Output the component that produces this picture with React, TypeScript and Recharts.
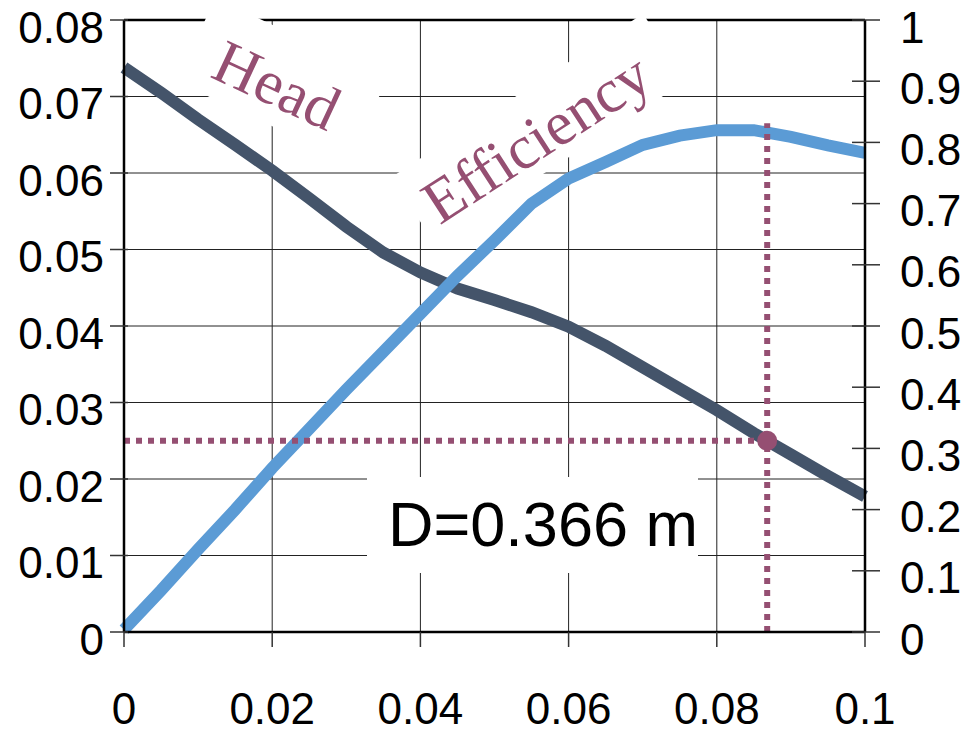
import { LineChart, Line, XAxis, YAxis, CartesianGrid, ReferenceLine, ReferenceDot } from "recharts";

const flow = [0, 0.005, 0.01, 0.015, 0.02, 0.025, 0.03, 0.035, 0.04, 0.045, 0.05, 0.055, 0.06, 0.065, 0.07, 0.075, 0.08, 0.085, 0.09, 0.095, 0.1];
const head = [0.0738, 0.0705, 0.067, 0.0637, 0.0603, 0.0567, 0.053, 0.0496, 0.047, 0.0449, 0.0434, 0.0418, 0.0399, 0.0374, 0.0346, 0.0318, 0.029, 0.026, 0.0232, 0.0204, 0.0177];
const efficiency = [0.004, 0.068, 0.135, 0.2, 0.268, 0.332, 0.396, 0.458, 0.52, 0.582, 0.64, 0.7, 0.741, 0.768, 0.796, 0.811, 0.82, 0.82, 0.809, 0.795, 0.783];

const xTicks = [0, 0.02, 0.04, 0.06, 0.08, 0.1];
const headTicks = [0, 0.01, 0.02, 0.03, 0.04, 0.05, 0.06, 0.07, 0.08];
const effTicks = [0, 0.1, 0.2, 0.3, 0.4, 0.5, 0.6, 0.7, 0.8, 0.9, 1];

// operating point
const opFlow = 0.0868;
const opHead = 0.025;
const opTop = 0.0665;

const rows = flow.map((q, i) => ({ q, head: head[i], eff: efficiency[i] }));

const PURPLE = "#954F72";
const SANS = "'Liberation Sans', Arial, sans-serif";
const SERIF = "'Liberation Serif', 'Times New Roman', serif";

const LeftTick = (p: any) => (
  <g>
    <line x1={p.x - 14} x2={p.x + 4} y1={p.y} y2={p.y} stroke="#333" strokeWidth={1.5} />
    <text x={p.x - 20} y={p.y + 7} textAnchor="end" dominantBaseline="central" fontSize={44} fontFamily={SANS} fill="#000">
      {String(p.payload.value)}
    </text>
  </g>
);

const RightTick = (p: any) => (
  <g>
    <line x1={p.x - 13} x2={p.x + 15} y1={p.y} y2={p.y} stroke="#333" strokeWidth={1.5} />
    <text x={p.x + 35} y={p.y + 7} textAnchor="start" dominantBaseline="central" fontSize={44} fontFamily={SANS} fill="#000">
      {String(p.payload.value)}
    </text>
  </g>
);

const BottomTick = (p: any) => (
  <g>
    <line x1={p.x} x2={p.x} y1={p.y} y2={p.y + 15} stroke="#333" strokeWidth={1.5} />
    <text x={p.x} y={p.y + 76} textAnchor="middle" dominantBaseline="central" fontSize={44} fontFamily={SANS} fill="#000">
      {String(p.payload.value)}
    </text>
  </g>
);

const box = (cx: number, cy: number, w: number, h: number, rot: number): React.CSSProperties => ({
  position: "absolute",
  left: cx - w / 2,
  top: cy - h / 2,
  width: w,
  height: h,
  background: "#fff",
  transform: `rotate(${rot}deg)`,
});

const label = (cx: number, cy: number, rot: number, size: number, family: string, color: string): React.CSSProperties => ({
  position: "absolute",
  left: cx,
  top: cy,
  transform: `translate(-50%, -50%) rotate(${rot}deg)`,
  fontSize: size,
  fontFamily: family,
  color,
  lineHeight: 1,
  whiteSpace: "nowrap",
});

export default function App() {
  return (
    <div style={{ position: "relative", width: 967, height: 731, background: "#fff" }}>
      <style>{`body{margin:0}`}</style>
      <LineChart width={967} height={731} data={rows} margin={{ top: 20, right: 0, bottom: 0, left: 0 }}>
        <CartesianGrid yAxisId="left" stroke="#222" strokeWidth={1} />
        <XAxis
          dataKey="q"
          type="number"
          domain={[0, 0.1]}
          ticks={xTicks}
          height={99}
          tickSize={0}
          tickMargin={0}
          tickLine={false}
          tick={<BottomTick />}
          axisLine={{ stroke: "#000", strokeWidth: 2.5 }}
        />
        <YAxis
          yAxisId="left"
          orientation="left"
          domain={[0, 0.08]}
          ticks={headTicks}
          width={124}
          tickSize={0}
          tickMargin={0}
          tickLine={false}
          tick={<LeftTick />}
          axisLine={{ stroke: "#000", strokeWidth: 2.5 }}
        />
        <YAxis
          yAxisId="right"
          orientation="right"
          domain={[0, 1]}
          ticks={effTicks}
          width={102}
          tickSize={0}
          tickMargin={0}
          tickLine={false}
          tick={<RightTick />}
          axisLine={{ stroke: "#000", strokeWidth: 2.5 }}
        />
        <ReferenceLine yAxisId="left" y={0.08} stroke="#000" strokeWidth={2.5} />
        <Line yAxisId="left" type="linear" dataKey="head" stroke="#44546A" strokeWidth={12} dot={false} isAnimationActive={false} />
        <Line yAxisId="right" type="linear" dataKey="eff" stroke="#5B9BD5" strokeWidth={12} dot={false} isAnimationActive={false} />
        <ReferenceLine
          yAxisId="left"
          segment={[{ x: 0, y: opHead }, { x: opFlow, y: opHead }]}
          stroke={PURPLE}
          strokeWidth={6}
          strokeDasharray="6 6"
          ifOverflow="visible"
        />
        <ReferenceLine
          yAxisId="left"
          segment={[{ x: opFlow, y: 0 }, { x: opFlow, y: opTop }]}
          stroke={PURPLE}
          strokeWidth={6}
          strokeDasharray="6 6"
          ifOverflow="visible"
        />
        <ReferenceDot yAxisId="left" x={opFlow} y={opHead} r={10} fill={PURPLE} stroke="none" />
      </LineChart>

      <div style={box(282, 80, 190, 92, 25)} />
      <div style={box(539, 129, 300, 80, -33)} />
      <div style={{ position: "absolute", left: 367, top: 477, width: 331, height: 96, background: "#fff" }} />

      <div style={label(277, 85, 25, 62, SERIF, PURPLE)}>Head</div>
      <div style={label(536, 138, -33, 62, SERIF, PURPLE)}>Efficiency</div>
      <div style={label(543, 524, 0, 63, SANS, "#000")}>D=0.366 m</div>
    </div>
  );
}
